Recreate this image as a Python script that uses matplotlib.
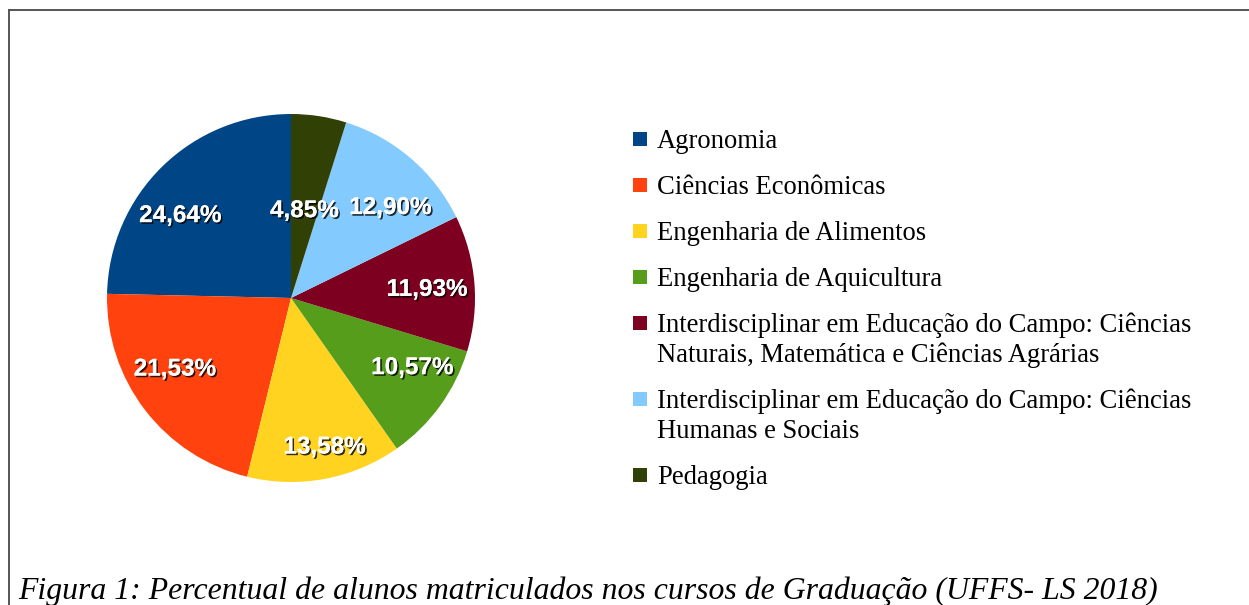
import matplotlib
matplotlib.use("Agg")
import matplotlib.pyplot as plt
import matplotlib.patheffects as pe
from matplotlib.patches import Rectangle
from matplotlib.lines import Line2D
import numpy as np

# ---- data ----
categories = [
    "Agronomia",
    "Ciências Econômicas",
    "Engenharia de Alimentos",
    "Engenharia de Aquicultura",
    "Interdisciplinar em Educação do Campo: Ciências\nNaturais, Matemática e Ciências Agrárias",
    "Interdisciplinar em Educação do Campo: Ciências\nHumanas e Sociais",
    "Pedagogia",
]
values = [24.64, 21.53, 13.58, 10.57, 11.93, 12.90, 4.85]
colors = ["#004586", "#ff420e", "#ffd320", "#579d1c", "#7e0021", "#83caff", "#314004"]
caption = "Figura 1: Percentual de alunos matriculados nos cursos de Graduação (UFFS- LS 2018)"

W, H = 1249, 605
DPI = 100
fig = plt.figure(figsize=(W / DPI, H / DPI), dpi=DPI)
fig.patch.set_facecolor("white")

def fx(px):
    return px / W

def fy(py_top):
    return 1 - py_top / H

# frame (top + left lines)
fig.add_artist(Line2D([fx(9), fx(1249)], [fy(10), fy(10)], color="#555555", lw=1.4,
                      transform=fig.transFigure))
fig.add_artist(Line2D([fx(9), fx(9)], [fy(10), fy(605)], color="#555555", lw=1.4,
                      transform=fig.transFigure))

# pie axes
cx, cy, r = 291, 298, 184
ax = fig.add_axes([fx(cx - r), fy(cy + r), 2 * r / W, 2 * r / H])
ax.set_aspect("equal")
fmt = lambda v: ("%.2f%%" % v).replace(".", ",")
wedges, texts = ax.pie(
    values, colors=colors, startangle=90, counterclock=True,
    radius=1.0, wedgeprops=dict(linewidth=0),
)
ax.set_xlim(-1, 1)
ax.set_ylim(-1, 1)
ax.axis("off")

label_r = [0.75, 0.74, 0.83, 0.76, 0.74, 0.73, 0.48]
label_da = [9, -6, 2, 6, -1, -7, 0]
for w, v, lr, da in zip(wedges, values, label_r, label_da):
    ang = np.deg2rad((w.theta1 + w.theta2) / 2 + da)
    ax.text(lr * np.cos(ang), lr * np.sin(ang), fmt(v), ha="center", va="center",
            color="white", fontsize=17.5, fontweight="bold", family="Liberation Sans",
            path_effects=[pe.withSimplePatchShadow(offset=(1.2, -1.2), shadow_rgbFace="black",
                                                   alpha=0.8), pe.Normal()])

# legend
baseline = 148
gaps = 16
for cat, col in zip(categories, colors):
    lines = cat.split("\n")
    fig.add_artist(Rectangle((fx(633), fy(baseline - 2)), 14 / W, 14 / H,
                             transform=fig.transFigure, facecolor=col, edgecolor="none"))
    for i, ln in enumerate(lines):
        fig.text(fx(657), fy(baseline + 30 * i), ln, ha="left", va="baseline", fontsize=19.2,
                 family="Liberation Serif", color="#000000")
    baseline += len(lines) * 30 + gaps

# caption
fig.text(fx(18), fy(599), caption, ha="left", va="baseline", fontsize=22.9,
         family="Liberation Serif", style="italic", color="#000000")

fig.savefig("out.png", dpi=DPI)
